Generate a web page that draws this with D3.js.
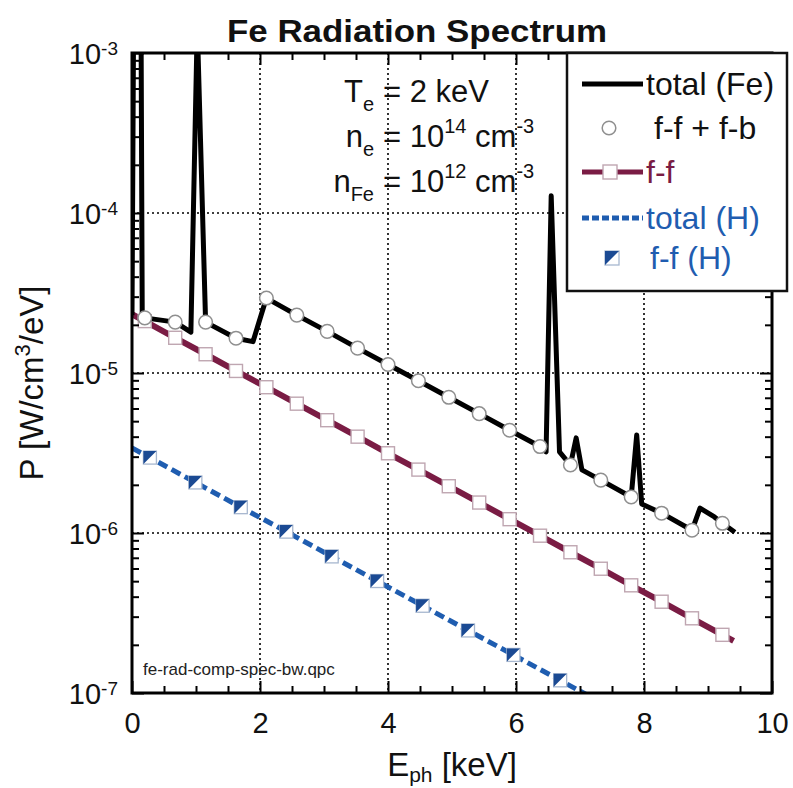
<!DOCTYPE html>
<html><head><meta charset="utf-8">
<script src="https://cdn.jsdelivr.net/npm/d3@7"></script>
<style>
body{margin:0;background:#fff;}
svg{display:block;font-family:"Liberation Sans",Arial,Helvetica,sans-serif;}
</style></head><body>
<svg id="chart" width="793" height="788"></svg>
<script>
// ---- data: photon energy [keV] and spectral power [W/cm^3/eV] ----
const energyTotalFe = [0, 0.04, 0.13, 0.16, 0.2, 0.675, 0.92, 1.02, 1.15, 1.625, 1.89, 2.1, 2.575, 3.05, 3.525, 4.0, 4.475, 4.95, 5.425, 5.9, 6.375, 6.47, 6.55, 6.68, 6.85, 6.94, 7.03, 7.325, 7.8, 7.886, 7.964, 8.275, 8.75, 8.875, 9.1, 9.225, 9.42];
const powerTotalFe  = [2.30e-5, 2e-2, 2e-2, 2.2e-5, 2.21e-5, 2.08e-5, 1.80e-5, 1.5e-3, 2.08e-5, 1.65e-5, 1.57e-5, 2.94e-5, 2.30e-5, 1.82e-5, 1.43e-5, 1.13e-5, 8.94e-6, 7.05e-6, 5.57e-6, 4.39e-6, 3.47e-6, 3.21e-6, 1.28e-4, 3.21e-6, 2.66e-6, 3.93e-6, 2.48e-6, 2.14e-6, 1.68e-6, 4.10e-6, 1.52e-6, 1.33e-6, 1.04e-6, 1.43e-6, 1.26e-6, 1.15e-6, 1.01e-6];

const energyFFB = [0.2, 0.675, 1.15, 1.625, 2.1, 2.575, 3.05, 3.525, 4.0, 4.475, 4.95, 5.425, 5.9, 6.375, 6.85, 7.325, 7.8, 8.275, 8.75, 9.225];
const powerFFB  = [2.21e-5, 2.08e-5, 2.08e-5, 1.65e-5, 2.94e-5, 2.30e-5, 1.82e-5, 1.43e-5, 1.13e-5, 8.94e-6, 7.05e-6, 5.57e-6, 4.39e-6, 3.47e-6, 2.66e-6, 2.14e-6, 1.68e-6, 1.33e-6, 1.04e-6, 1.15e-6];

const energyFF = [0, 0.2, 0.675, 1.15, 1.625, 2.1, 2.575, 3.05, 3.525, 4.0, 4.475, 4.95, 5.425, 5.9, 6.375, 6.85, 7.325, 7.8, 8.275, 8.75, 9.225, 9.4];
const powerFF  = [2.33e-5, 2.11e-5, 1.66e-5, 1.31e-5, 1.03e-5, 8.15e-6, 6.43e-6, 5.07e-6, 4.00e-6, 3.15e-6, 2.49e-6, 1.96e-6, 1.55e-6, 1.22e-6, 9.62e-7, 7.58e-7, 5.98e-7, 4.71e-7, 3.72e-7, 2.93e-7, 2.31e-7, 2.12e-7];

const energyH = [0, 0.28, 0.99, 1.70, 2.41, 3.12, 3.83, 4.54, 5.25, 5.96, 6.69, 7.2];
const powerH  = [3.40e-6, 2.96e-6, 2.07e-6, 1.45e-6, 1.02e-6, 7.14e-7, 5.01e-7, 3.51e-7, 2.46e-7, 1.73e-7, 1.20e-7, 9.3e-8];

const xMajorTicks = [0, 2, 4, 6, 8, 10];
const xMinorTicks = [0.5, 1, 1.5, 2.5, 3, 3.5, 4.5, 5, 5.5, 6.5, 7, 7.5, 8.5, 9, 9.5];
const yDecadeExponents = [-3, -4, -5, -6, -7];
const xGridValues = [2, 4, 6, 8];
const yGridValues = [1e-4, 1e-5, 1e-6];

const legendLabels = ["total (Fe)", "f-f + f-b", "f-f", "total (H)", "f-f (H)"];

// ---- styling ----
const colFe = "#000000", colFF = "#7a1c44", colH = "#1f5db0", colHmark = "#1b4a93";

const svg = d3.select("#chart");
const x = d3.scaleLinear().domain([0, 10]).range([132, 772]);
const y = d3.scaleLog().domain([1e-7, 1e-3]).range([693, 53]);

const yMinorTicks = [];
[-7, -6, -5, -4].forEach(e => { for (let m = 2; m <= 9; m++) yMinorTicks.push(m * Math.pow(10, e)); });

svg.append("defs").append("clipPath").attr("id", "plotClip").append("rect")
  .attr("x", x(0)).attr("y", y(1e-3)).attr("width", x(10) - x(0)).attr("height", y(1e-7) - y(1e-3));

// grid
const grid = svg.append("g").attr("stroke", "#000").attr("stroke-width", 1.6).attr("stroke-dasharray", "2,3");
grid.selectAll(".gx").data(xGridValues).join("line")
  .attr("x1", d => x(d)).attr("x2", d => x(d)).attr("y1", y(1e-3)).attr("y2", y(1e-7));
grid.selectAll(".gy").data(yGridValues).join("line")
  .attr("y1", d => y(d)).attr("y2", d => y(d)).attr("x1", x(0)).attr("x2", x(10));

const line = d3.line().x(d => x(d[0])).y(d => y(d[1]));
const data = svg.append("g").attr("clip-path", "url(#plotClip)");

// hydrogen total (dashed) and its free-free markers
const hPts = d3.zip(energyH, powerH);
data.append("path").attr("d", line(hPts)).attr("fill", "none")
  .attr("stroke", colH).attr("stroke-width", 5).attr("stroke-dasharray", "10,5");
function hMarker(g, s) {
  g.append("rect").attr("x", -s).attr("y", -s).attr("width", 2 * s).attr("height", 2 * s)
    .attr("fill", "#fff").attr("stroke", "#a7b7cf").attr("stroke-width", 1.3);
  g.append("path").attr("d", `M${-s},${-s}L${s},${-s}L${-s},${s}Z`).attr("fill", colHmark);
}
data.selectAll(".hm").data(hPts.slice(1, -1)).join("g")
  .attr("transform", d => `translate(${x(d[0])},${y(d[1])})`)
  .each(function () { hMarker(d3.select(this), 6.5); });

// iron free-free
const ffPts = d3.zip(energyFF, powerFF);
data.append("path").attr("d", line(ffPts)).attr("fill", "none")
  .attr("stroke", colFF).attr("stroke-width", 6);
data.selectAll(".ffm").data(ffPts.slice(1, -1)).join("rect")
  .attr("x", d => x(d[0]) - 6.5).attr("y", d => y(d[1]) - 6.5).attr("width", 13).attr("height", 13)
  .attr("fill", "#fff").attr("stroke", "#bfa6b1").attr("stroke-width", 1.4);

// iron total
const totPts = d3.zip(energyTotalFe, powerTotalFe);
data.append("path").attr("d", line(totPts)).attr("fill", "none")
  .attr("stroke", colFe).attr("stroke-width", 5).attr("stroke-linejoin", "round");

// iron free-free + free-bound
data.selectAll(".fb").data(d3.zip(energyFFB, powerFFB)).join("circle")
  .attr("cx", d => x(d[0])).attr("cy", d => y(d[1])).attr("r", 6.8)
  .attr("fill", "#fff").attr("stroke", "#8f8f8f").attr("stroke-width", 1.5);

// axes (ticks point inward)
const fontTick = 29;
function styleAxis(g) {
  g.select(".domain").remove();
  g.selectAll(".tick line").attr("stroke", "#000").attr("stroke-width", 2);
  g.attr("font-family", null).attr("font-size", null);
}
svg.append("g").attr("transform", `translate(0,${y(1e-7)})`)
  .call(d3.axisBottom(x).tickValues(xMinorTicks).tickSizeInner(-7).tickSizeOuter(0).tickFormat(""))
  .call(styleAxis);
svg.append("g").attr("transform", `translate(0,${y(1e-3)})`)
  .call(d3.axisTop(x).tickValues(xMinorTicks).tickSizeInner(-7).tickSizeOuter(0).tickFormat(""))
  .call(styleAxis);
svg.append("g").attr("transform", `translate(0,${y(1e-3)})`)
  .call(d3.axisTop(x).tickValues(xMajorTicks).tickSizeInner(-12).tickSizeOuter(0).tickFormat(""))
  .call(styleAxis);
const xAxis = svg.append("g").attr("transform", `translate(0,${y(1e-7)})`)
  .call(d3.axisBottom(x).tickValues(xMajorTicks).tickSizeInner(-12).tickSizeOuter(0).tickPadding(19).tickFormat(d3.format("d")))
  .call(styleAxis);
xAxis.selectAll(".tick text").attr("font-size", fontTick).attr("fill", "#111");

svg.append("g").attr("transform", `translate(${x(0)},0)`)
  .call(d3.axisLeft(y).tickValues(yMinorTicks).tickSizeInner(-7).tickSizeOuter(0).tickFormat(""))
  .call(styleAxis);
svg.append("g").attr("transform", `translate(${x(10)},0)`)
  .call(d3.axisRight(y).tickValues(yMinorTicks).tickSizeInner(-7).tickSizeOuter(0).tickFormat(""))
  .call(styleAxis);
svg.append("g").attr("transform", `translate(${x(10)},0)`)
  .call(d3.axisRight(y).tickValues(yDecadeExponents.map(e => Math.pow(10, e))).tickSizeInner(-12).tickSizeOuter(0).tickFormat(""))
  .call(styleAxis);
const yAxis = svg.append("g").attr("transform", `translate(${x(0)},0)`)
  .call(d3.axisLeft(y).tickValues(yDecadeExponents.map(e => Math.pow(10, e))).tickSizeInner(-12).tickSizeOuter(0).tickPadding(14).tickFormat(""))
  .call(styleAxis);
yAxis.selectAll(".tick text").each(function (d) {
  const t = d3.select(this).attr("dy", null).attr("fill", "#111");
  t.append("tspan").attr("font-size", 29).attr("dy", 10).text("10");
  t.append("tspan").attr("font-size", 19).attr("dy", -9).text(String(Math.round(Math.log10(d))));
});

// frame
svg.append("rect").attr("x", x(0)).attr("y", y(1e-3)).attr("width", x(10) - x(0)).attr("height", y(1e-7) - y(1e-3))
  .attr("fill", "none").attr("stroke", "#000").attr("stroke-width", 3);

// titles
svg.append("text").attr("x", 417).attr("y", 42).attr("text-anchor", "middle")
  .attr("font-size", 32).attr("font-weight", "bold").attr("textLength", 380).attr("lengthAdjust", "spacingAndGlyphs")
  .attr("fill", "#111").text("Fe Radiation Spectrum");

const xl = svg.append("text").attr("x", 452).attr("y", 776).attr("text-anchor", "middle").attr("font-size", 33).attr("fill", "#111");
xl.append("tspan").text("E");
xl.append("tspan").attr("font-size", 21).attr("dy", 6).text("ph");
xl.append("tspan").attr("dy", -6).text(" [keV]");

const yl = svg.append("text").attr("transform", "translate(43,383) rotate(-90)").attr("text-anchor", "middle")
  .attr("font-size", 33).attr("fill", "#111");
yl.append("tspan").text("P [W/cm");
yl.append("tspan").attr("font-size", 22).attr("dy", -13).text("3");
yl.append("tspan").attr("dy", 13).text("/eV]");

// plasma parameters
const ann = svg.append("g").attr("font-size", 31).attr("fill", "#111");
function annLine(yb, base, sub, rest, sup1, rest2, sup2) {
  const l = ann.append("text").attr("x", 374).attr("y", yb).attr("text-anchor", "end");
  l.append("tspan").text(base);
  l.append("tspan").attr("font-size", 20).attr("dy", 9).text(sub);
  const r = ann.append("text").attr("x", 383).attr("y", yb);
  r.append("tspan").text(rest);
  if (sup1) {
    r.append("tspan").attr("font-size", 20).attr("dy", -14).text(sup1);
    r.append("tspan").attr("dy", 14).text(rest2);
    r.append("tspan").attr("font-size", 20).attr("dy", -14).text(sup2);
  }
}
annLine(102, "T", "e", "= 2 keV");
annLine(147, "n", "e", "= 10", "14", " cm", "-3");
annLine(192, "n", "Fe", "= 10", "12", " cm", "-3");

// file tag
svg.append("text").attr("x", 143).attr("y", 675).attr("font-size", 17).attr("fill", "#222")
  .text("fe-rad-comp-spec-bw.qpc");

// legend
const lg = svg.append("g");
lg.append("rect").attr("x", 567).attr("y", 53).attr("width", 220).attr("height", 238)
  .attr("fill", "#fff").attr("stroke", "#111").attr("stroke-width", 2.5);
const rowY = [84, 128, 172, 218, 258];
const textX = [646, 654, 646, 646, 650];
const textCol = ["#111", "#111", colFF, colH, colH];
lg.append("line").attr("x1", 582).attr("x2", 643).attr("y1", rowY[0]).attr("y2", rowY[0]).attr("stroke", colFe).attr("stroke-width", 5);
lg.append("circle").attr("cx", 609).attr("cy", rowY[1]).attr("r", 6.8).attr("fill", "#fff").attr("stroke", "#8f8f8f").attr("stroke-width", 1.5);
lg.append("line").attr("x1", 582).attr("x2", 643).attr("y1", rowY[2]).attr("y2", rowY[2]).attr("stroke", colFF).attr("stroke-width", 5);
lg.append("rect").attr("x", 603).attr("y", rowY[2] - 7).attr("width", 14).attr("height", 14).attr("fill", "#fff").attr("stroke", "#bfa6b1").attr("stroke-width", 1.4);
lg.append("line").attr("x1", 582).attr("x2", 643).attr("y1", rowY[3]).attr("y2", rowY[3]).attr("stroke", colH).attr("stroke-width", 5).attr("stroke-dasharray", "7,3");
hMarker(lg.append("g").attr("transform", `translate(612,${rowY[4]})`), 7);
lg.selectAll(".lt").data(legendLabels).join("text")
  .attr("x", (d, i) => textX[i]).attr("y", (d, i) => rowY[i] + 11)
  .attr("font-size", 32).attr("fill", (d, i) => textCol[i]).text(d => d);
</script>
</body></html>
